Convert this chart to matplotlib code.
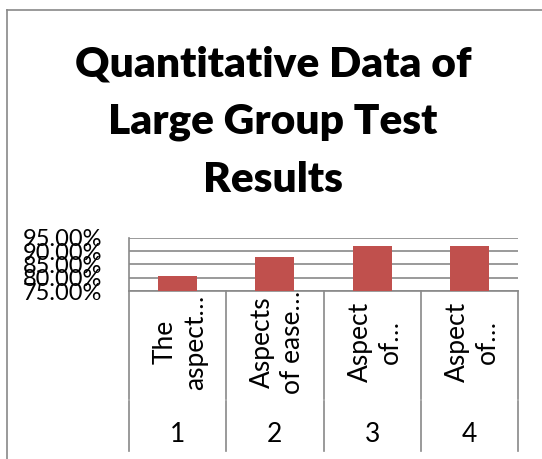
import matplotlib
matplotlib.use("Agg")
import matplotlib.pyplot as plt
from matplotlib.lines import Line2D
from matplotlib.ticker import FuncFormatter

# data
title_lines = ["Quantitative Data of", "Large Group Test", "Results"]
numbers = ["1", "2", "3", "4"]
aspects = ["The\naspect…", "Aspects\nof ease…", "Aspect\nof…", "Aspect\nof…"]
values = [0.806, 0.877, 0.917, 0.917]
yticks = [0.75, 0.80, 0.85, 0.90, 0.95]

plt.rcParams['font.family'] = ['Lato', 'DejaVu Sans']

W, H = 542, 459
fig = plt.figure(figsize=(W / 100, H / 100), dpi=100)


def fx(px):
    return px / W


def fy(py):
    return 1 - py / H


grey = "#898989"

# chart border (cropped, only left and top visible)
fig.add_artist(Line2D([fx(6.5), fx(6.5)], [fy(9.5), 0], color=grey, lw=1.2))
fig.add_artist(Line2D([fx(6.5), 1], [fy(9.5), fy(9.5)], color=grey, lw=1.2))

# title
for i, line in enumerate(title_lines):
    fig.text(fx(273), fy(76 + 58 * i), line, ha="center", va="baseline",
             fontsize=30.5, fontweight="heavy", color="black")

# plot area
left, right, top, bottom = 129, 518, 237.7, 291
ax = fig.add_axes([fx(left), fy(bottom), fx(right - left), (bottom - top) / H])

x = list(range(len(values)))
ax.bar(x, values, width=0.4, color="#C0504D", zorder=3)
ax.set_xlim(-0.5, len(values) - 0.5)
ax.set_ylim(yticks[0], yticks[-1])
ax.set_yticks(yticks)
ax.yaxis.set_major_formatter(FuncFormatter(lambda v, p: f"{v * 100:.2f}%"))
ax.tick_params(axis="y", length=0, pad=19, labelsize=17)
ax.set_xticks([])
ax.grid(axis="y", color=grey, lw=1.2, zorder=0)
for s in ["top", "right"]:
    ax.spines[s].set_visible(False)
for s in ["left", "bottom"]:
    ax.spines[s].set_color(grey)
    ax.spines[s].set_linewidth(1.2)

# multi-level category axis
tr = ax.get_xaxis_transform()
h_ax = bottom - top
y_mid = -(400 - bottom) / h_ax
y_end = -(451 - bottom) / h_ax
for b in [i - 0.5 for i in range(len(values) + 1)]:
    ax.plot([b, b], [0, y_mid + 0.01], transform=tr, color=grey, lw=1.2, clip_on=False)
    ax.plot([b, b], [y_mid - 0.01, y_end], transform=tr, color=grey, lw=1.2, clip_on=False)

for i, (lab, num) in enumerate(zip(aspects, numbers)):
    ax.text(i + 0.03, -(342 - bottom) / h_ax, lab, transform=tr, rotation=90,
            ha="center", va="center", multialignment="center",
            fontsize=19, linespacing=1.25)
    ax.text(i, -(435 - bottom) / h_ax, num, transform=tr,
            ha="center", va="center", fontsize=19)

plt.savefig("out.png", dpi=100)
